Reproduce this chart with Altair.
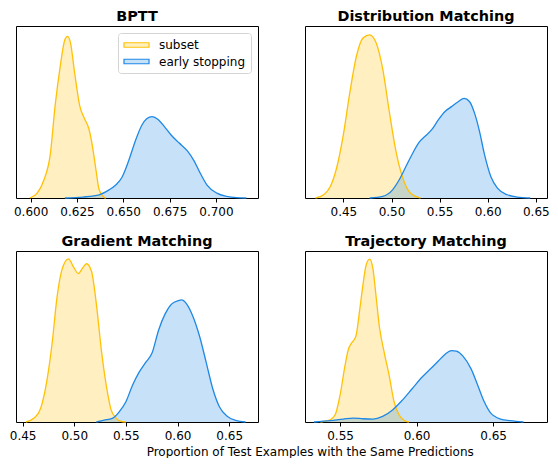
import altair as alt
import pandas as pd

SERIES = ["subset", "early stopping"]
LINE_COLORS = ["#FFC107", "#1E88E5"]
LEGEND_FILLS = ["#FFF0C1", "#C7E1F8"]

# ---- BPTT ----
BPTT_SUBSET_X = [0.5996, 0.6035, 0.6071, 0.6106, 0.6132, 0.6159, 0.6185, 0.6199, 0.6215, 0.6238,
                 0.6265, 0.6291, 0.6314, 0.6335, 0.6353, 0.6370, 0.6397, 0.6406]
BPTT_SUBSET_Y = [0, 15, 55, 135, 285, 405, 490, 500, 480, 385, 285, 245, 215, 155, 85, 25, 2, 0]
BPTT_EARLY_X = [0.6185, 0.6282, 0.6370, 0.6423, 0.6459, 0.6494, 0.6529, 0.6564, 0.6600, 0.6626,
                0.6656, 0.6688, 0.6723, 0.6758, 0.6802, 0.6847, 0.6882, 0.6917, 0.6952, 0.7005,
                0.7058, 0.7111, 0.7164]
BPTT_EARLY_Y = [0, 3, 10, 25, 40, 65, 115, 175, 225, 245, 252, 243, 220, 195, 170, 145, 115, 75,
                40, 15, 5, 1, 0]

# ---- Distribution Matching ----
DM_SUBSET_X = [0.4210, 0.4296, 0.4364, 0.4432, 0.4500, 0.4568, 0.4636, 0.4704, 0.4773, 0.4841,
               0.4909, 0.4977, 0.5045, 0.5113, 0.5181, 0.5250, 0.5301]
DM_SUBSET_Y = [0, 10, 35, 95, 195, 325, 435, 490, 500, 475, 395, 265, 145, 65, 20, 5, 0]
DM_EARLY_X = [0.4773, 0.4909, 0.5011, 0.5079, 0.5147, 0.5216, 0.5284, 0.5352, 0.5420, 0.5488,
              0.5556, 0.5624, 0.5693, 0.5754, 0.5812, 0.5863, 0.5914, 0.5965, 0.6033, 0.6101,
              0.6204, 0.6306, 0.6442]
DM_EARLY_Y = [0, 5, 25, 55, 95, 135, 170, 190, 210, 240, 265, 280, 295, 305, 295, 260, 205, 135,
              65, 30, 10, 3, 0]

# ---- Gradient Matching ----
GM_SUBSET_X = [0.4532, 0.4611, 0.4675, 0.4738, 0.4786, 0.4833, 0.4881, 0.4944, 0.4998, 0.5040,
               0.5081, 0.5119, 0.5167, 0.5214, 0.5262, 0.5310, 0.5357, 0.5405, 0.5452, 0.5500]
GM_SUBSET_Y = [0, 12, 42, 132, 242, 382, 467, 500, 472, 455, 472, 485, 462, 362, 222, 112, 37,
               12, 2, 0]
GM_EARLY_X = [0.5214, 0.5310, 0.5373, 0.5437, 0.5500, 0.5563, 0.5627, 0.5690, 0.5754, 0.5817,
              0.5881, 0.5944, 0.6008, 0.6040, 0.6087, 0.6151, 0.6214, 0.6278, 0.6341, 0.6405,
              0.6484, 0.6563, 0.6659]
GM_EARLY_Y = [0, 7, 12, 32, 62, 112, 152, 182, 212, 282, 332, 362, 372, 374, 362, 322, 262, 182,
              102, 47, 17, 5, 0]

# ---- Trajectory Matching ----
TM_SUBSET_X = [0.5372, 0.5436, 0.5468, 0.5500, 0.5532, 0.5554, 0.5575, 0.5603, 0.5628, 0.5650,
               0.5671, 0.5693, 0.5714, 0.5736, 0.5757, 0.5789, 0.5821, 0.5853, 0.5885, 0.5918,
               0.5950]
TM_SUBSET_Y = [0, 7, 22, 82, 172, 222, 242, 262, 342, 422, 482, 499, 472, 382, 292, 212, 142, 62,
               22, 5, 0]
TM_EARLY_X = [0.5329, 0.5436, 0.5521, 0.5586, 0.5650, 0.5714, 0.5778, 0.5843, 0.5907, 0.5971,
              0.6035, 0.6100, 0.6142, 0.6185, 0.6228, 0.6260, 0.6303, 0.6357, 0.6400, 0.6442,
              0.6485, 0.6549, 0.6613, 0.6699]
TM_EARLY_Y = [0, 4, 9, 12, 10, 9, 17, 37, 67, 102, 137, 167, 187, 207, 219, 217, 202, 162, 112,
              62, 27, 9, 4, 0]

PANEL_TITLES = ["BPTT", "Distribution Matching", "Gradient Matching", "Trajectory Matching"]
X_DOMAINS = [[0.5921, 0.7227], [0.4101, 0.6616], [0.4436, 0.6779], [0.5271, 0.6852]]
X_TICKS = [[0.600, 0.625, 0.650, 0.675, 0.700], [0.45, 0.50, 0.55, 0.60, 0.65],
           [0.45, 0.50, 0.55, 0.60, 0.65], [0.55, 0.60, 0.65]]
X_FORMATS = [".3f", ".2f", ".2f", ".2f"]
Y_TOPS = [532, 527, 524, 524]
CURVES = [
    (BPTT_SUBSET_X, BPTT_SUBSET_Y, BPTT_EARLY_X, BPTT_EARLY_Y),
    (DM_SUBSET_X, DM_SUBSET_Y, DM_EARLY_X, DM_EARLY_Y),
    (GM_SUBSET_X, GM_SUBSET_Y, GM_EARLY_X, GM_EARLY_Y),
    (TM_SUBSET_X, TM_SUBSET_Y, TM_EARLY_X, TM_EARLY_Y),
]
FONT = "DejaVu Sans"
PANEL_W = 242
ROW_H = [172, 171]


def panel(i, show_legend):
    sx, sy, ex, ey = CURVES[i]
    df = pd.concat([
        pd.DataFrame({"x": sx, "density": sy, "series": SERIES[0]}),
        pd.DataFrame({"x": ex, "density": ey, "series": SERIES[1]}),
    ])
    xenc = alt.X("x:Q", title=None,
                 scale=alt.Scale(domain=X_DOMAINS[i], nice=False, zero=False),
                 axis=alt.Axis(values=X_TICKS[i], format=X_FORMATS[i], grid=False,
                               domain=False, tickColor="black", tickSize=4, tickWidth=1,
                               labelColor="black", labelFontSize=12, labelFont=FONT,
                               labelPadding=4, labelFlush=False))
    yenc = alt.Y("density:Q", axis=None, stack=None,
                 scale=alt.Scale(domain=[0, Y_TOPS[i]], nice=False))
    line_scale = alt.Scale(domain=SERIES, range=LINE_COLORS)
    area = alt.Chart(df).mark_area(interpolate="monotone", fillOpacity=0.25).encode(
        x=xenc, y=yenc,
        fill=alt.Fill("series:N", scale=line_scale, legend=None))
    line = alt.Chart(df).mark_line(interpolate="monotone", strokeWidth=1.3).encode(
        x=xenc, y=yenc,
        stroke=alt.Stroke("series:N", scale=line_scale, legend=None))
    layers = [area, line]
    if show_legend:
        legend = alt.Legend(title=None, orient="top-right", offset=7,
                            labelFontSize=12, labelFont=FONT, labelColor="black",
                            symbolType="M-1,-0.375H3.167V0.375H-1Z", symbolSize=144,
                            symbolStrokeWidth=1.2, labelOffset=22, rowPadding=3.5,
                            padding=5, strokeColor="#d5d5d5", fillColor="white",
                            cornerRadius=3)
        key = alt.Chart(df).transform_filter("false").mark_area().encode(
            x=xenc, y=yenc,
            fill=alt.Fill("series:N", legend=legend,
                          scale=alt.Scale(domain=SERIES, range=LEGEND_FILLS)),
            stroke=alt.Stroke("series:N", legend=legend,
                              scale=alt.Scale(domain=SERIES, range=LINE_COLORS)))
        layers.append(key)
    return alt.layer(*layers).resolve_scale(
        fill="independent", stroke="independent").properties(
        width=PANEL_W, height=ROW_H[i // 2],
        title=alt.TitleParams(PANEL_TITLES[i], fontSize=14.4, fontWeight="bold",
                              font=FONT, color="black", offset=2))


chart = alt.concat(
    panel(0, True), panel(1, False), panel(2, False), panel(3, False),
    columns=2, spacing={"row": 53, "column": 47}, bounds="flush"
).resolve_scale(
    x="independent", y="independent", fill="independent", stroke="independent"
).resolve_legend(fill="independent", stroke="independent").properties(
    padding={"left": 0, "top": 0, "right": 0, "bottom": 0},
    title=alt.TitleParams("Proportion of Test Examples with the Same Predictions",
                          orient="bottom", anchor="middle", fontSize=12, fontWeight="normal",
                          font=FONT, color="black", offset=5.5, dx=31)
).configure(font=FONT, view=alt.ViewConfig(stroke="black", strokeWidth=1))

chart.save("out.html", embed_options={"renderer": "svg", "actions": False})
